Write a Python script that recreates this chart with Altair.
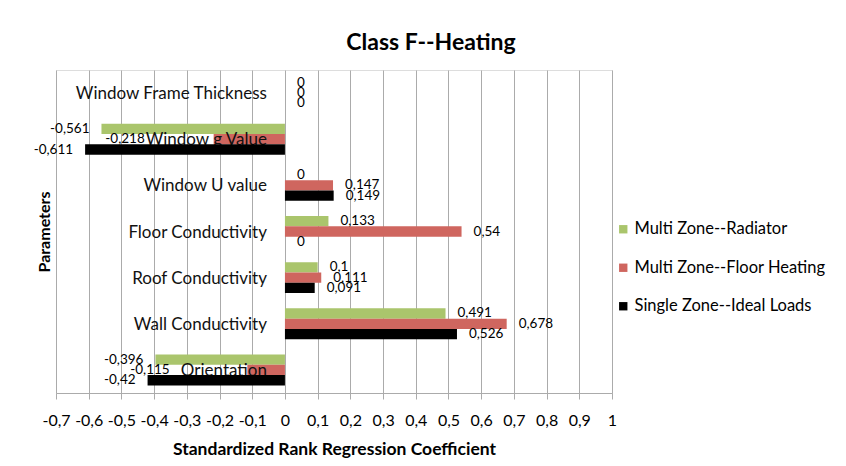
import altair as alt
import pandas as pd

categories = ["Window Frame Thickness", "Window g Value", "Window U value",
              "Floor Conductivity", "Roof Conductivity", "Wall Conductivity", "Orientation"]
series = ["Multi Zone--Radiator", "Multi Zone--Floor Heating", "Single Zone--Ideal Loads"]
radiator = [0, -0.561, 0, 0.133, 0.1, 0.491, -0.396]
floor_heating = [0, -0.218, 0.147, 0.54, 0.111, 0.678, -0.115]
ideal_loads = [0, -0.611, 0.149, 0, 0.091, 0.526, -0.42]
tick_values = [-0.7, -0.6, -0.5, -0.4, -0.3, -0.2, -0.1, 0, 0.1, 0.2, 0.3, 0.4,
               0.5, 0.6, 0.7, 0.8, 0.9, 1]
colors = ["#AAC56C", "#CF665F", "#000000"]

rows = []
for s, vals in zip(series, [radiator, floor_heating, ideal_loads]):
    for c, v in zip(categories, vals):
        rows.append({"Parameter": c, "Series": s, "value": v})
df = pd.DataFrame(rows)
cat_df = pd.DataFrame({"Parameter": categories, "value": [0] * len(categories)})

FONT = "Lato"
PX_PER_UNIT = 556 / 1.7  # plot width / domain span

x_scale = alt.Scale(domain=[-0.7, 1], nice=False, zero=False)
y_scale = alt.Scale(domain=categories, paddingInner=0.33, paddingOuter=0.165)
y_off_scale = alt.Scale(domain=series)

x_axis = alt.Axis(
    values=tick_values,
    labelExpr="replace(replace(format(datum.value, '.1~f'), '.', ','), '\u2212', '-')",
    labelOverlap=False, labelFlush=False,
    grid=True, gridColor="#ABABAB", gridWidth=1,
    domainColor="#ABABAB", tickColor="#ABABAB", tickSize=6,
    labelFontSize=16, labelFont=FONT, labelColor="#000000", labelPadding=13,
    title="Standardized Rank Regression Coefficient",
    titleFont=FONT, titleFontSize=17.5, titleFontWeight="bold", titleColor="#000000",
    titlePadding=12,
)
y_axis = alt.Axis(
    labels=False, ticks=False, domain=False, grid=False,
    title="Parameters", titleFont=FONT, titleFontSize=16, titleFontWeight="bold",
    titleColor="#000000", titlePadding=4,
)

X = alt.X("value:Q", scale=x_scale, axis=x_axis)
Y = alt.Y("Parameter:N", scale=y_scale, axis=y_axis, sort=categories)
YOFF = alt.YOffset("Series:N", scale=y_off_scale, sort=series)

color_enc = alt.Color(
    "Series:N", scale=alt.Scale(domain=series, range=colors), sort=series,
    legend=alt.Legend(
        title=None, orient="none", legendX=559, legendY=151,
        symbolType="square", symbolSize=70, symbolStrokeWidth=0,
        labelFont=FONT, labelFontSize=16.5, labelColor="#000000", labelLimit=0,
        rowPadding=21.5, labelOffset=3,
    ),
)

cat_labels = alt.Chart(cat_df).mark_text(
    align="right", baseline="middle", dx=-18, dy=1, fontSize=17, font=FONT, color="#111111"
).encode(x=X, y=Y, text="Parameter:N")

bar_base = alt.Chart(df).mark_bar(size=10.3).encode(x=X, y=Y, yOffset=YOFF, color=color_enc)
bars_front = bar_base.transform_filter(alt.FieldOneOfPredicate(field="Series", oneOf=series[:2]))
bars_back = bar_base.transform_filter(alt.FieldOneOfPredicate(field="Series", oneOf=series[2:]))

# negative labels that would collide with the category label are moved to its left (as Excel does)
base_text = alt.Chart(df).transform_calculate(
    label="replace(toString(datum.value), '.', ',')",
    catleft=f"-(18 + length(datum.Parameter) * 8.3 + 6) / {PX_PER_UNIT}",
).transform_calculate(
    lx="datum.value < 0 && datum.value > datum.catleft ? datum.catleft + 12 / "
       f"{PX_PER_UNIT} : datum.value"
)
pos_labels = base_text.transform_filter("datum.value >= 0").mark_text(
    align="left", baseline="middle", dx=12, fontSize=13.5, font=FONT, color="#000000"
).encode(x=X, y=Y, yOffset=YOFF, text="label:N")
neg_labels = base_text.transform_filter("datum.value < 0").mark_text(
    align="right", baseline="middle", dx=-12, fontSize=13.5, font=FONT, color="#000000"
).encode(x=alt.X("lx:Q", scale=x_scale, axis=x_axis), y=Y, yOffset=YOFF, text="label:N")

chart = alt.layer(bars_front, cat_labels, bars_back, pos_labels, neg_labels).properties(
    width=556, height=323,
    autosize=alt.AutoSizeParams(type="none"),
    padding={"left": 48, "top": 62, "right": 226, "bottom": 65},
    title=alt.TitleParams("Class F--Heating", font=FONT, fontSize=23, fontWeight="bold",
                          color="#000000", anchor="middle", dx=97, offset=15),
).configure_view(stroke=None).configure(background="white")

chart.save("out.html", embed_options={"renderer": "svg", "actions": False})
